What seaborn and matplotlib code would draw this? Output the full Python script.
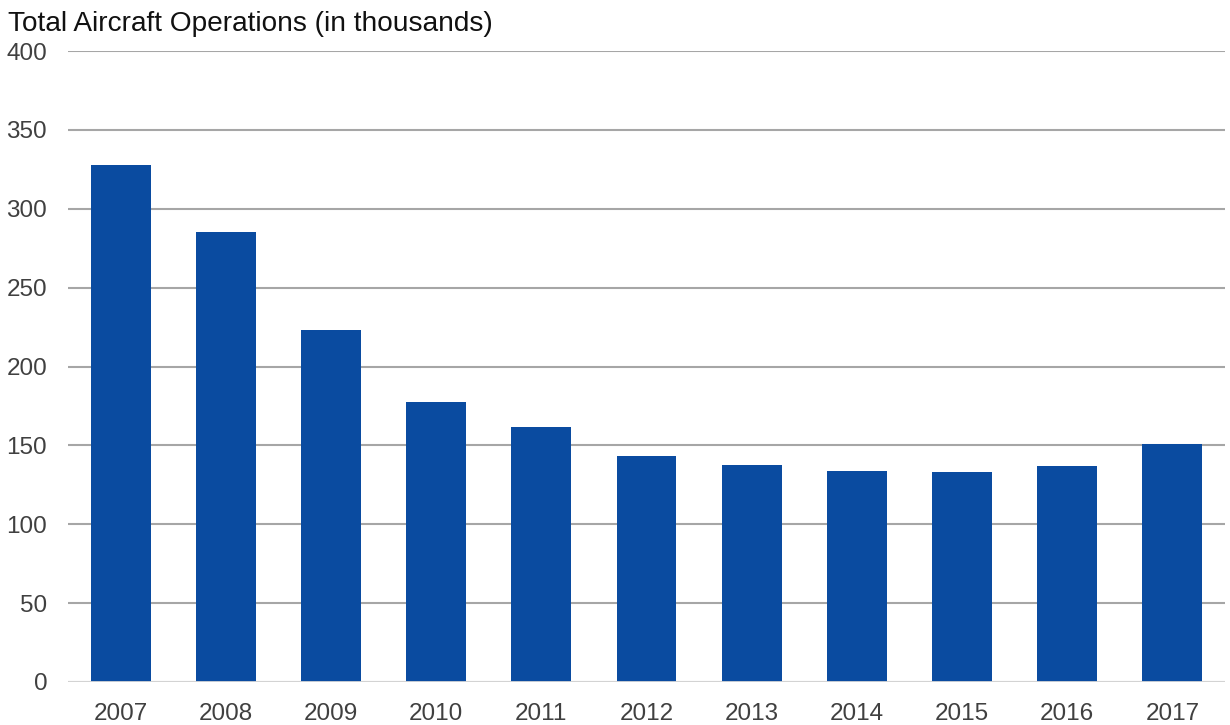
import matplotlib
matplotlib.use("Agg")
import matplotlib.pyplot as plt
import seaborn as sns
import pandas as pd

# data
years = ["2007", "2008", "2009", "2010", "2011", "2012", "2013", "2014", "2015", "2016", "2017"]
operations = [328, 285, 223, 177.5, 161.5, 143.5, 137.5, 133.5, 133, 137, 151]
y_ticks = [0, 50, 100, 150, 200, 250, 300, 350, 400]

df = pd.DataFrame({"year": years, "ops": operations})

sns.set_theme(style="white")
plt.rcParams["font.family"] = ["Liberation Sans", "DejaVu Sans"]

fig = plt.figure(figsize=(12.3, 7.25), dpi=100)
ax = fig.add_axes([68 / 1230, 1 - 682 / 725, (1225 - 68) / 1230, (682 - 51) / 725])

sns.barplot(data=df, x="year", y="ops", color="#0A4BA0", saturation=1,
            width=0.57, linewidth=0, ax=ax, zorder=3)

ax.set_ylim(0, 400)
ax.set_xlim(-0.5, 10.5)
ax.set_yticks(y_ticks)
ax.yaxis.grid(True, color="#A6A6A6", linewidth=1.5, zorder=0)
ax.set_axisbelow(True)
ax.axhline(0, color="#D9D9D9", linewidth=2, zorder=4)

for s in ax.spines.values():
    s.set_visible(False)

ax.set_xlabel("")
ax.set_ylabel("")
ax.tick_params(axis="both", length=0, labelsize=17.5, labelcolor="#404040")
ax.tick_params(axis="y", pad=15)
ax.tick_params(axis="x", pad=15)

fig.text(8 / 1230, 1 - 31 / 725, "Total Aircraft Operations (in thousands)",
         fontsize=20.2, color="#111111", ha="left", va="baseline")

fig.savefig("out.png", dpi=100)
